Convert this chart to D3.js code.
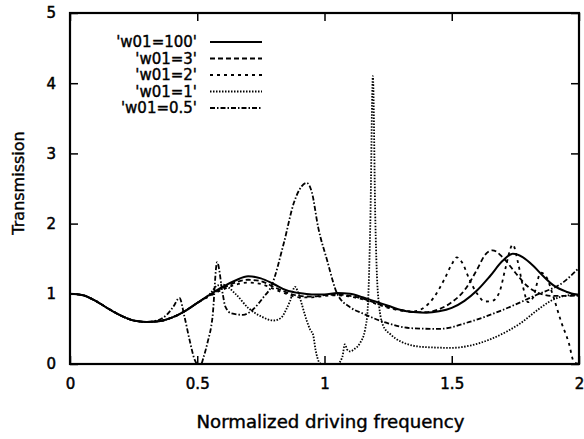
<!DOCTYPE html>
<html>
<head>
<meta charset="utf-8">
<script src="https://cdn.jsdelivr.net/npm/d3@7"></script>
<style>
  body { margin: 0; background: #fff; }
  svg { display: block; }
</style>
</head>
<body>
<div id="chart"></div>
<script>
// data: [frequency, transmission]
var baseLow = [[0,1.0],[0.05,0.98],[0.1,0.9],[0.15,0.79],[0.2,0.69],[0.25,0.62],[0.3,0.6],[0.35,0.61],[0.4,0.66],[0.45,0.75],[0.5,0.87]];

var w100 = baseLow.concat([[0.55,0.99],[0.6,1.1],[0.65,1.19],[0.7,1.25],[0.75,1.22],[0.8,1.14],[0.85,1.05],[0.9,1.01],[0.95,0.99],[1.0,0.99],[1.05,1.01],[1.1,1.0],[1.15,0.95],[1.2,0.89],[1.25,0.83],[1.3,0.77],[1.35,0.74],[1.4,0.73],[1.45,0.75],[1.5,0.8],[1.55,0.9],[1.6,1.05],[1.65,1.25],[1.7,1.47],[1.74,1.57],[1.78,1.52],[1.82,1.4],[1.86,1.25],[1.9,1.12],[1.95,1.03],[2.0,0.98]]);

var w3 = baseLow.concat([[0.55,0.98],[0.6,1.08],[0.65,1.16],[0.7,1.2],[0.75,1.18],[0.8,1.1],[0.85,1.02],[0.9,0.97],[0.95,0.96],[1.0,0.98],[1.05,0.99],[1.1,0.97],[1.15,0.93],[1.2,0.87],[1.25,0.81],[1.3,0.77],[1.35,0.74],[1.4,0.74],[1.45,0.78],[1.5,0.88],[1.55,1.05],[1.6,1.35],[1.63,1.55],[1.66,1.62],[1.7,1.52],[1.75,1.3],[1.8,1.1],[1.85,1.0],[1.9,0.97],[1.95,0.97],[2.0,0.98]]);

var w2 = baseLow.concat([[0.55,0.97],[0.6,1.06],[0.65,1.13],[0.7,1.16],[0.75,1.14],[0.8,1.07],[0.85,1.0],[0.9,0.95],[0.95,0.95],[1.0,0.97],[1.05,0.98],[1.1,0.96],[1.15,0.92],[1.2,0.86],[1.25,0.8],[1.3,0.76],[1.35,0.75],[1.39,0.8],[1.43,0.95],[1.47,1.2],[1.5,1.42],[1.52,1.52],[1.54,1.45],[1.57,1.2],[1.6,1.0],[1.63,0.89],[1.66,0.9],[1.69,1.05],[1.71,1.35],[1.74,1.7],[1.76,1.45],[1.78,1.1],[1.8,0.88],[1.82,0.95],[1.85,1.3],[1.87,1.25],[1.9,0.95],[1.93,0.6],[1.96,0.3],[1.98,0.03],[2.0,0.0]]);

var w1 = baseLow.concat([[0.55,1.0],[0.58,1.12],[0.6,1.13],[0.65,1.0],[0.7,0.8],[0.75,0.68],[0.8,0.62],[0.83,0.66],[0.85,0.78],[0.865,0.9],[0.884,1.1],[0.9,0.98],[0.915,0.8],[0.93,0.62],[0.945,0.48],[0.955,0.42],[0.965,0.2],[0.98,0.02],[0.99,0.0],[1.05,0.0],[1.07,0.1],[1.08,0.28],[1.09,0.2],[1.1,0.18],[1.12,0.22],[1.14,0.3],[1.16,0.5],[1.17,0.8],[1.18,2.0],[1.19,4.1],[1.2,2.0],[1.21,1.0],[1.23,0.55],[1.26,0.42],[1.3,0.32],[1.35,0.26],[1.4,0.24],[1.5,0.23],[1.57,0.26],[1.65,0.35],[1.72,0.47],[1.77,0.58],[1.83,0.75],[1.88,0.88],[1.93,0.96],[1.97,0.98],[2.0,0.97]]);

var w05 = [[0,1.0],[0.05,0.98],[0.1,0.9],[0.15,0.79],[0.2,0.69],[0.25,0.62],[0.3,0.6],[0.35,0.63],[0.38,0.7],[0.405,0.81],[0.43,0.94],[0.45,0.67],[0.47,0.34],[0.49,0.06],[0.5,0.0],[0.515,0.0],[0.525,0.1],[0.54,0.3],[0.56,0.67],[0.578,1.45],[0.6,1.0],[0.61,0.82],[0.635,0.72],[0.68,0.7],[0.72,0.78],[0.76,0.95],[0.79,1.1],[0.84,1.72],[0.88,2.3],[0.91,2.53],[0.93,2.58],[0.95,2.45],[0.975,1.95],[1.01,1.48],[1.05,1.0],[1.1,0.81],[1.15,0.72],[1.25,0.58],[1.34,0.51],[1.45,0.5],[1.57,0.6],[1.7,0.77],[1.83,0.98],[1.94,1.17],[2.0,1.37]];

var seriesNames = ["'w01=100'", "'w01=3'", "'w01=2'", "'w01=1'", "'w01=0.5'"];
var seriesData = [w100, w3, w2, w1, w05];
var dashes = ["none", "5,3", "3,4", "1.5,1.5", "5,2,1.5,2"];

var xTicks = [0, 0.5, 1, 1.5, 2];
var yTicks = [0, 1, 2, 3, 4, 5];
var xTitle = "Normalized driving frequency";
var yTitle = "Transmission";

var W = 584, H = 439;
var plotLeft = 70, plotRight = 579, plotTop = 13, plotBottom = 364;
var fontFamily = "'DejaVu Sans', sans-serif";

var svg = d3.select("#chart").append("svg").attr("width", W).attr("height", H);

var x = d3.scaleLinear().domain([0, 2]).range([plotLeft, plotRight]);
var y = d3.scaleLinear().domain([0, 5]).range([plotBottom, plotTop]);

svg.append("defs").append("clipPath").attr("id", "clip")
  .append("rect").attr("x", plotLeft).attr("y", plotTop)
  .attr("width", plotRight - plotLeft).attr("height", plotBottom - plotTop);

// curves
var line = d3.line()
  .x(function (d) { return x(d[0]); })
  .y(function (d) { return y(d[1]); })
  .curve(d3.curveMonotoneX);

var curves = svg.append("g").attr("clip-path", "url(#clip)");
seriesData.forEach(function (s, i) {
  curves.append("path")
    .attr("d", line(s))
    .attr("fill", "none")
    .attr("stroke", "#000")
    .attr("stroke-width", i == 0 ? 2 : 1.8)
    .attr("stroke-dasharray", dashes[i]);
});

// frame with inward ticks (gnuplot style)
var axisG = svg.append("g");
axisG.append("g").attr("transform", "translate(0," + plotBottom + ")")
  .call(d3.axisBottom(x).tickValues(xTicks).tickSize(-8).tickFormat(d3.format("")).tickPadding(14));
axisG.append("g").attr("transform", "translate(0," + plotTop + ")")
  .call(d3.axisTop(x).tickValues(xTicks).tickSize(-8).tickFormat(""));
axisG.append("g").attr("transform", "translate(" + plotLeft + ",0)")
  .call(d3.axisLeft(y).tickValues(yTicks).tickSize(-8).tickFormat(d3.format("d")).tickPadding(14));
axisG.append("g").attr("transform", "translate(" + plotRight + ",0)")
  .call(d3.axisRight(y).tickValues(yTicks).tickSize(-8).tickFormat(""));

axisG.selectAll(".domain").remove();
axisG.selectAll(".tick line").attr("stroke", "#000").attr("stroke-width", 1.5);
axisG.selectAll(".tick text")
  .attr("font-family", fontFamily).attr("font-size", "15px").attr("fill", "#000")
  .attr("stroke", "#000").attr("stroke-width", 0.5);

svg.append("rect")
  .attr("x", plotLeft).attr("y", plotTop)
  .attr("width", plotRight - plotLeft).attr("height", plotBottom - plotTop)
  .attr("fill", "none").attr("stroke", "#000").attr("stroke-width", 2.2);

// axis titles
svg.append("text")
  .attr("x", (plotLeft + plotRight) / 2 + 6).attr("y", 428)
  .attr("text-anchor", "middle")
  .attr("font-family", fontFamily).attr("font-size", "17px")
  .attr("stroke", "#000").attr("stroke-width", 0.4)
  .attr("textLength", 268).attr("lengthAdjust", "spacingAndGlyphs")
  .text(xTitle);

svg.append("text")
  .attr("transform", "translate(24,183) rotate(-90)")
  .attr("text-anchor", "middle")
  .attr("font-family", fontFamily).attr("font-size", "16px")
  .attr("stroke", "#000").attr("stroke-width", 0.4)
  .text(yTitle);

// legend
var legend = svg.append("g");
seriesNames.forEach(function (name, i) {
  var ly = 42 + i * 16.5;
  legend.append("text")
    .attr("x", 197).attr("y", ly + 5)
    .attr("text-anchor", "end")
    .attr("font-family", fontFamily).attr("font-size", "15px")
    .attr("stroke", "#000").attr("stroke-width", 0.4)
    .text(name);
  legend.append("line")
    .attr("x1", 210).attr("x2", 262).attr("y1", ly).attr("y2", ly)
    .attr("stroke", "#000")
    .attr("stroke-width", i == 0 ? 2 : 1.8)
    .attr("stroke-dasharray", dashes[i]);
});
</script>
</body>
</html>
